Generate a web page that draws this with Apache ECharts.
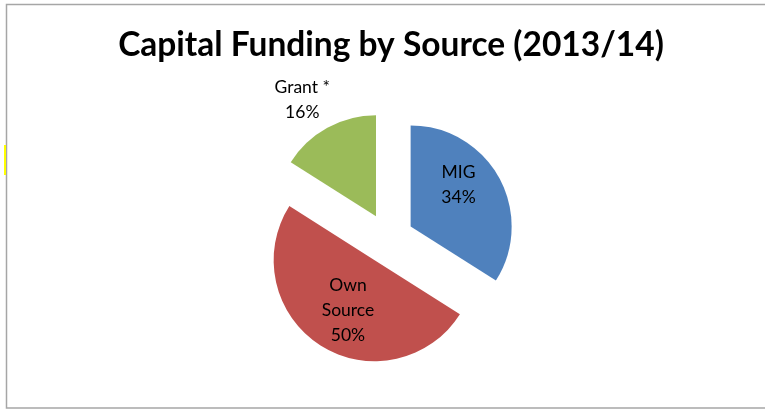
<!DOCTYPE html>
<html>
<head>
<meta charset="utf-8">
<script src="https://cdn.jsdelivr.net/npm/echarts@6/dist/echarts.min.js"></script>
<style>
html,body{margin:0;padding:0;background:#fff;}
#chart{width:765px;height:410px;}
</style>
</head>
<body>
<div id="chart"></div>
<script>
var titleText = 'Capital Funding by Source (2013/14)';
var categories = ['MIG', 'Own Source', 'Grant *'];
var values = [34, 50, 16];
var colors = ['#4f81bd', '#c0504d', '#9bbb59'];
var labelShift = [[1, -16], [2, 5], [-48, -70]];

var chart = echarts.init(document.getElementById('chart'), null, {renderer: 'canvas'});
var data = categories.map(function (c, i) {
  return {
    name: c,
    value: values[i],
    selected: true,
    itemStyle: {color: colors[i]},
    select: {itemStyle: {color: colors[i]}}
  };
});
chart.setOption({
  animation: false,
  backgroundColor: '#fff',
  title: {
    text: titleText,
    left: 386, top: 23,
    textAlign: 'center',
    textStyle: {fontFamily: 'Lato', fontWeight: 'bold', fontSize: 33.5, color: '#000'}
  },
  graphic: [
    {type: 'rect', shape: {x: 6.5, y: 4.5, width: 800, height: 403.5}, style: {fill: 'none', stroke: '#a6a6a6', lineWidth: 1.5}, silent: true},
    {type: 'rect', shape: {x: 4, y: 145, width: 2, height: 30}, style: {fill: '#ffff00'}, silent: true}
  ],
  series: [{
    type: 'pie',
    center: [388.3, 238.7],
    radius: [0, 101],
    startAngle: 90,
    clockwise: true,
    selectedMode: 'multiple',
    selectedOffset: 25.5,
    avoidLabelOverlap: false,
    silent: true,
    emphasis: {disabled: true},
    label: {
      show: true,
      position: 'inside',
      formatter: function (p) { return p.name.replace('Own ', 'Own\n') + '\n' + p.percent + '%'; },
      fontFamily: 'Lato',
      fontSize: 17.5,
      lineHeight: 25,
      color: '#000',
      align: 'center'
    },
    labelLine: {show: false},
    labelLayout: function (p) {
      var s = labelShift[p.dataIndex];
      return {dx: s[0], dy: s[1]};
    },
    data: data
  }]
});
</script>
</body>
</html>
